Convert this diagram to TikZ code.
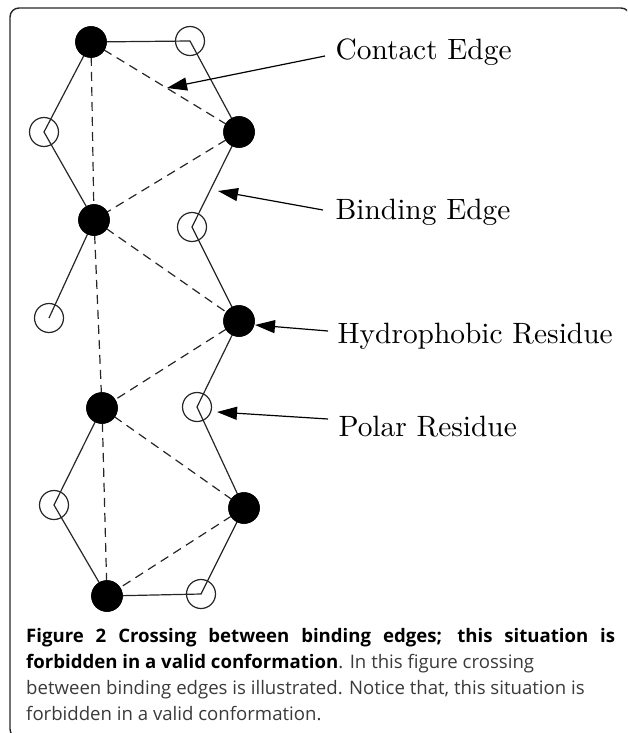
\documentclass[tikz,border=0pt]{standalone}
\usepackage{fontspec}
\newfontfamily\capfont{Open Sans}
\usetikzlibrary{arrows.meta}
\definecolor{captext}{HTML}{3A3A3A}
\tikzset{
  hres/.style={circle,fill=black,draw=black,line width=1pt,minimum size=30.5pt,inner sep=0pt},
  pres/.style={circle,draw=black!85,line width=1.2pt,minimum size=29pt,inner sep=0pt},
  bond/.style={draw=black!85,line width=1.2pt},
  contact/.style={draw=black!85,line width=1.2pt,dash pattern=on 9pt off 6pt},
  pointer/.style={draw=black,line width=1.2pt,-{Triangle[length=20pt,width=13pt]}},
  lbl/.style={anchor=base west,inner sep=0pt,scale=2.94,font=\fontsize{10}{12}\selectfont},
  caprow/.style={anchor=base west,inner sep=0pt,font=\capfont\fontsize{18.6}{22}\selectfont},
  frame/.style={draw=black!85,line width=1.4pt,rounded corners=9pt}
}
\begin{document}
\begin{tikzpicture}[x=1pt,y=-1pt]
\useasboundingbox (0,0) rectangle (627,733);
\begin{scope}
\clip (0,0) rectangle (627,733);
\draw[frame] (10,8) rectangle (630,738);
\end{scope}
% residues
\node[hres] (A) at (91,42) {};
\node[pres] (B) at (190,41) {};
\node[pres] (C) at (44,132) {};
\node[hres] (D) at (239,132) {};
\node[hres] (E) at (94,220) {};
\node[pres] (F) at (192,227) {};
\node[pres] (G) at (49,318) {};
\node[hres] (H) at (239,321) {};
\node[hres] (I) at (102,408) {};
\node[pres] (J) at (197,407) {};
\node[pres] (K) at (54,505) {};
\node[hres] (L) at (244,508) {};
\node[hres] (M) at (107,596) {};
\node[pres] (N) at (201,594) {};
% contact edges
\draw[contact] (A.center) -- (E.center);
\draw[contact] (E.center) -- (I.center);
\draw[contact] (I.center) -- (M.center);
\draw[contact] (A.center) -- (D.center);
\draw[contact] (D.center) -- (E.center);
\draw[contact] (E.center) -- (H.center);
\draw[contact] (H.center) -- (I.center);
\draw[contact] (I.center) -- (L.center);
\draw[contact] (L.center) -- (M.center);
% binding edges (chain)
\draw[bond] (G.center) -- (E.center) -- (C.center) -- (A.center) -- (B.center) -- (D.center) -- (F.center) -- (H.center) -- (J.center) -- (L.center) -- (N.center) -- (M.center) -- (K.center) -- (I.center);
% redraw hydrophobic residues on top
\node[hres] at (A) {};
\node[hres] at (D) {};
\node[hres] at (E) {};
\node[hres] at (H) {};
\node[hres] at (I) {};
\node[hres] at (L) {};
\node[hres] at (M) {};
% labels
\node[lbl] (tContact) at (335,60) {Contact Edge};
\node[lbl] (tBinding) at (335,219) {Binding Edge};
\node[lbl] (tHydro) at (337,343) {Hydrophobic Residue};
\node[lbl] (tPolar) at (338,436) {Polar Residue};
\coordinate (sContact) at (325,56);
\coordinate (sBinding) at (323,210);
\coordinate (sHydro) at (328,331);
\coordinate (sPolar) at (328,419);
\coordinate (eContact) at (167,88);
\coordinate (eBinding) at (218,191);
\coordinate (eHydro) at (255,325);
\coordinate (ePolar) at (217,412);
\draw[pointer] (sContact) -- (eContact);
\draw[pointer] (sBinding) -- (eBinding);
\draw[pointer] (sHydro) -- (eHydro);
\draw[pointer] (sPolar) -- (ePolar);
% caption
\node[caprow] (cap1) at (26,642) {\makebox[589pt][s]{\bfseries Figure 2 Crossing between binding edges; this situation is}};
\node[caprow] (cap2) at (26,668) {\bfseries forbidden in a valid conformation\mdseries\color{captext}. In this figure crossing};
\node[caprow,text=captext] (cap3) at (26,694) {between binding edges is illustrated. Notice that, this situation is};
\node[caprow,text=captext] (cap4) at (26,720) {forbidden in a valid conformation.};
\end{tikzpicture}
\end{document}
